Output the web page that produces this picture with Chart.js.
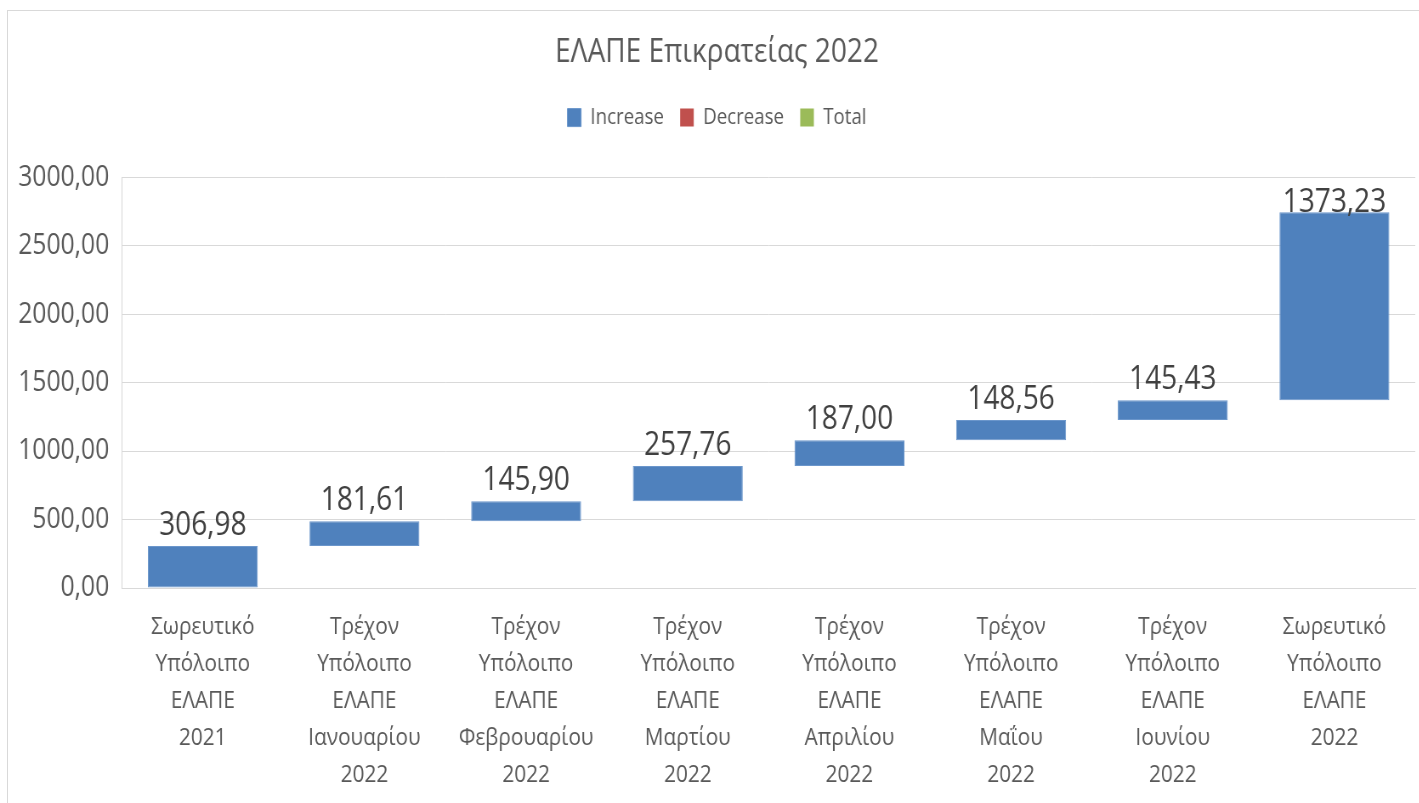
<!DOCTYPE html>
<html lang="el">
  <head>
    <meta charset="UTF-8" />
    <title>ΕΛΑΠΕ Επικρατείας 2022</title>
    <script src="https://cdn.jsdelivr.net/npm/chart.js@4.4.0/dist/chart.umd.min.js"></script>
    <style>
      html,
      body {
        margin: 0;
        padding: 0;
        background: #fff;
        overflow: hidden;
        width: 1419px;
        height: 803px;
      }

      .frame {
        position: absolute;
        left: 7px;
        top: 10px;
        width: 1420px;
        height: 810px;
        border: 1px solid #d9d9d9;
        box-sizing: border-box;
      }

      /* narrow the whole drawing a bit so the text looks condensed */
      .wrap {
        position: absolute;
        left: 0;
        top: 0;
        width: 1670px;
        height: 803px;
        transform: scaleX(0.85);
        transform-origin: 0 0;
      }
    </style>
  </head>
  <body>
    <div class="frame"></div>
    <div class="wrap">
      <canvas id="elapeChart"></canvas>
    </div>

    <script>
      // Categories (multi-line axis labels)
      const categories = [
        ["Σωρευτικό", "Υπόλοιπο", "ΕΛΑΠΕ", "2021"],
        ["Τρέχον", "Υπόλοιπο", "ΕΛΑΠΕ", "Ιανουαρίου", "2022"],
        ["Τρέχον", "Υπόλοιπο", "ΕΛΑΠΕ", "Φεβρουαρίου", "2022"],
        ["Τρέχον", "Υπόλοιπο", "ΕΛΑΠΕ", "Μαρτίου", "2022"],
        ["Τρέχον", "Υπόλοιπο", "ΕΛΑΠΕ", "Απριλίου", "2022"],
        ["Τρέχον", "Υπόλοιπο", "ΕΛΑΠΕ", "Μαΐου", "2022"],
        ["Τρέχον", "Υπόλοιπο", "ΕΛΑΠΕ", "Ιουνίου", "2022"],
        ["Σωρευτικό", "Υπόλοιπο", "ΕΛΑΠΕ", "2022"],
      ];

      // Step values of the waterfall
      const increases = [306.98, 181.61, 145.9, 257.76, 187.0, 148.56, 145.43, 1373.23];

      // Value axis
      const yMin = 0;
      const yMax = 3000;
      const yStep = 500;

      const legendNames = ["Increase", "Decrease", "Total"];
      const legendColors = ["#4F81BD", "#C0504D", "#9BBB59"];

      // Floating bars: each step starts where the previous one ended
      const steps = [];
      let running = 0;
      increases.forEach((v) => {
        steps.push([running, running + v]);
        running += v;
      });

      const fmt = (v) => Number(v).toFixed(2).replace(".", ",");

      const textColor = "#595959";
      Chart.defaults.font.family = "'Open Sans', sans-serif";
      Chart.defaults.color = textColor;

      // Empty box under the legend to push the plot down a little
      const legendSpacer = {
        id: "legendSpacer",
        beforeInit(chart) {
          const box = {
            position: "top",
            weight: 500,
            fullSize: true,
            options: {},
            isHorizontal() {
              return true;
            },
            update(maxWidth) {
              this.width = maxWidth;
              this.height = 39;
            },
            getPadding() {
              return { left: 0, right: 0, top: 0, bottom: 0 };
            },
            draw() {},
          };
          Chart.layouts.addBox(chart, box);
        },
      };

      // Value labels above each bar
      const barLabels = {
        id: "barLabels",
        afterDatasetsDraw(chart) {
          const ctx = chart.ctx;
          const meta = chart.getDatasetMeta(0);
          ctx.save();
          ctx.font = "33px 'Open Sans', sans-serif";
          ctx.fillStyle = "#404040";
          ctx.textAlign = "center";
          ctx.textBaseline = "alphabetic";
          meta.data.forEach((bar, i) => {
            const top = Math.min(bar.y, bar.base);
            const y = Math.max(top - 11, chart.chartArea.top + 34);
            ctx.fillText(fmt(increases[i]), bar.x, y);
          });
          ctx.restore();
        },
      };

      new Chart(document.getElementById("elapeChart"), {
        type: "bar",
        data: {
          labels: categories,
          datasets: [
            {
              label: legendNames[0],
              data: steps,
              backgroundColor: legendColors[0],
              borderColor: "#6B96CB",
              borderWidth: 1,
              borderSkipped: false,
            },
            {
              label: legendNames[1],
              data: [],
              backgroundColor: legendColors[1],
              borderWidth: 0,
            },
            {
              label: legendNames[2],
              data: [],
              backgroundColor: legendColors[2],
              borderWidth: 0,
            },
          ],
        },
        options: {
          responsive: true,
          maintainAspectRatio: false,
          animation: false,
          grouped: false,
          categoryPercentage: 1,
          barPercentage: 0.68,
          layout: { padding: { top: 0, right: 5, bottom: 0, left: 22 } },
          plugins: {
            title: {
              display: true,
              text: "ΕΛΑΠΕ Επικρατείας 2022",
              color: textColor,
              font: { size: 33, weight: "normal", lineHeight: 1.2 },
              padding: { top: 33, bottom: 15 },
            },
            legend: {
              display: true,
              position: "top",
              labels: {
                color: textColor,
                font: { size: 22 },
                boxWidth: 16,
                boxHeight: 18,
                padding: 19,
              },
            },
            tooltip: { enabled: false },
          },
          scales: {
            x: {
              grid: { display: false, drawTicks: false },
              border: { display: true, color: "#d9d9d9" },
              ticks: {
                color: textColor,
                font: { size: 24.5, lineHeight: 1.51 },
                padding: 21,
                maxRotation: 0,
                autoSkip: false,
              },
              afterFit(scale) {
                scale.height = 215;
              },
            },
            y: {
              min: yMin,
              max: yMax,
              grid: { color: "#d9d9d9", lineWidth: 1, drawTicks: false },
              border: { display: true, color: "#d9d9d9" },
              ticks: {
                stepSize: yStep,
                color: textColor,
                font: { size: 29 },
                padding: 15,
                callback: (v) => fmt(v),
              },
              afterFit(scale) {
                scale.width = 121.5;
              },
            },
          },
        },
        plugins: [legendSpacer, barLabels],
      });
    </script>
  </body>
</html>
